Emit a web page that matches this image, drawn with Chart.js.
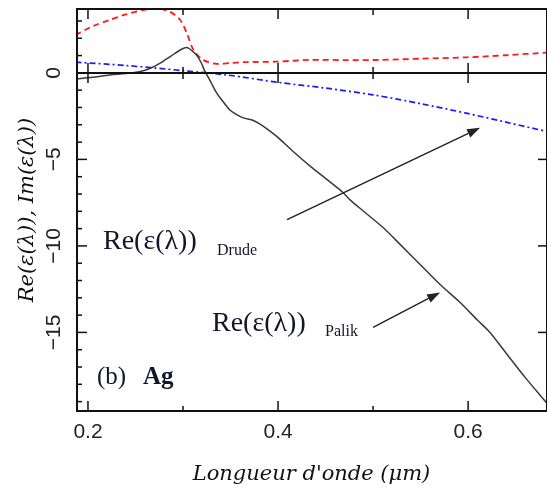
<!DOCTYPE html>
<html>
<head>
<meta charset="utf-8">
<script src="https://cdn.jsdelivr.net/npm/chart.js@4/dist/chart.umd.min.js"></script>
<style>
html,body{margin:0;padding:0;background:#fff;}
#c{display:block;}
</style>
</head>
<body>
<canvas id="c" width="547" height="490"></canvas>
<script>
// ---- data ----
const palikWavelength = [0.187,0.205,0.223,0.24,0.255,0.265,0.276,0.288,0.298,0.304,0.309,0.314,0.319,0.323,0.329,0.3355,0.342,0.349,0.356,0.3635,0.374,0.385,0.3986,0.415,0.434,0.45,0.468,0.4758,0.49,0.5105,0.53,0.55,0.5705,0.5916,0.61,0.623,0.64,0.66,0.683];
const palikRe = [-0.35,-0.25,-0.12,-0.04,0.08,0.25,0.56,1.0,1.35,1.46,1.3,1.04,0.6,0.1,-0.5,-1.17,-1.65,-2.13,-2.4,-2.6,-2.75,-3.1,-3.67,-4.5,-5.4,-6.1,-6.9,-7.34,-8.0,-8.94,-10.0,-11.1,-12.23,-13.27,-14.3,-15.0,-16.2,-17.6,-19.1];

const palikImWavelength = [0.187,0.205,0.223,0.24,0.258,0.272,0.286,0.297,0.304,0.311,0.321,0.3355,0.35,0.3635,0.3986,0.4337,0.47,0.507,0.55,0.598,0.64,0.683];
const palikIm = [2.19,2.7,3.06,3.38,3.63,3.73,3.54,3.06,2.29,1.33,0.75,0.52,0.57,0.62,0.65,0.75,0.74,0.75,0.82,0.9,1.02,1.17];

const drudeWavelength = [0.187,0.241,0.3,0.346,0.402,0.45,0.5,0.55,0.598,0.64,0.683];
const drudeRe = [0.62,0.42,0.13,-0.12,-0.56,-0.88,-1.27,-1.78,-2.33,-2.85,-3.39];

const xMajorTicks = [0.2,0.4,0.6];
const xTickLabels = ['0.2','0.4','0.6'];
const xMinorTicks = [0.3,0.5];
const yMajorTicks = [0,-5,-10,-15];
const yTickLabels = ['0','\u22125','\u221210','\u221215'];
const yMinorTicks = [3,2,1,-1,-2,-3,-4,-6,-7,-8,-9,-11,-12,-13,-14,-16,-17,-18,-19];

// annotation texts (positions in data units)
const notes = [
  {text:'Re(\u03b5(\u03bb))', x:0.2158, y:-10.16, font:'28px "Liberation Serif"'},
  {text:'Drude', x:0.3358, y:-10.5, font:'16px "Liberation Serif"'},
  {text:'Re(\u03b5(\u03bb))', x:0.3305, y:-14.89, font:'28px "Liberation Serif"'},
  {text:'Palik', x:0.4495, y:-15.23, font:'16px "Liberation Serif"'},
  {text:'(b)', x:0.2095, y:-18.0, font:'25px "Liberation Serif"'},
  {text:'Ag', x:0.2579, y:-18.0, font:'bold 25px "Liberation Serif"'}
];
const arrows = [
  {x0:0.4095, y0:-8.48, x1:0.6126, y1:-3.17},
  {x0:0.5, y0:-14.71, x1:0.5705, y1:-12.69}
];

const toXY = (xs, ys) => xs.map((x,i)=>({x:x, y:ys[i]}));

const framePlugin = {
  id:'frame',
  afterDatasetsDraw(chart){
    const ctx = chart.ctx, a = chart.chartArea;
    const xs = chart.scales.x, ys = chart.scales.y;
    ctx.save();
    ctx.strokeStyle = '#111';
    ctx.fillStyle = '#111';
    ctx.lineWidth = 2;
    ctx.strokeRect(a.left+1, a.top+1, a.right-a.left-1, a.bottom-a.top-2);
    const y0 = ys.getPixelForValue(0);
    ctx.beginPath(); ctx.moveTo(a.left, y0); ctx.lineTo(a.right, y0); ctx.stroke();
    ctx.lineWidth = 1.5;
    const seg = (x1,y1,x2,y2)=>{ctx.beginPath();ctx.moveTo(x1,y1);ctx.lineTo(x2,y2);ctx.stroke();};
    xMajorTicks.forEach(v=>{
      const p = xs.getPixelForValue(v);
      seg(p,a.bottom,p,a.bottom-11);
      seg(p,a.top,p,a.top+11);
      seg(p,y0-10,p,y0+10);
    });
    xMinorTicks.forEach(v=>{
      const p = xs.getPixelForValue(v);
      seg(p,a.bottom,p,a.bottom-6);
      seg(p,a.top,p,a.top+7);
      seg(p,y0-6,p,y0+6);
    });
    yMajorTicks.forEach(v=>{
      const p = ys.getPixelForValue(v);
      seg(a.left,p,a.left+11,p);
      if (v!==0) seg(a.right,p,a.right-9,p);
    });
    yMinorTicks.forEach(v=>{
      const p = ys.getPixelForValue(v);
      seg(a.left,p,a.left+6,p);
    });
    // arrows
    ctx.lineWidth = 1.4;
    ctx.strokeStyle = '#222'; ctx.fillStyle = '#222';
    arrows.forEach(r=>{
      const px0 = xs.getPixelForValue(r.x0), py0 = ys.getPixelForValue(r.y0);
      const px1 = xs.getPixelForValue(r.x1), py1 = ys.getPixelForValue(r.y1);
      const ang = Math.atan2(py1-py0, px1-px0);
      const hl = 13, hw = 4.5;
      const bx = px1 - hl*Math.cos(ang), by = py1 - hl*Math.sin(ang);
      seg(px0,py0,bx,by);
      ctx.beginPath();
      ctx.moveTo(px1,py1);
      ctx.lineTo(bx + hw*Math.sin(ang), by - hw*Math.cos(ang));
      ctx.lineTo(bx - hw*Math.sin(ang), by + hw*Math.cos(ang));
      ctx.closePath(); ctx.fill();
    });
    // texts
    ctx.fillStyle = '#15152a';
    ctx.textBaseline = 'alphabetic';
    ctx.textAlign = 'left';
    notes.forEach(n=>{
      ctx.font = n.font;
      ctx.fillText(n.text, xs.getPixelForValue(n.x), ys.getPixelForValue(n.y));
    });
    ctx.restore();
  }
};

new Chart(document.getElementById('c'), {
  type:'line',
  data:{
    datasets:[
      {label:'Re Palik', data:toXY(palikWavelength, palikRe), borderColor:'#3a3a3a', borderWidth:1.5, pointRadius:0, tension:0.3, fill:false},
      {label:'Im Palik', data:toXY(palikImWavelength, palikIm), borderColor:'#ff1a1a', borderWidth:1.8, borderDash:[6,4], pointRadius:0, tension:0.3, fill:false},
      {label:'Re Drude', data:toXY(drudeWavelength, drudeRe), borderColor:'#1a1aff', borderWidth:1.7, borderDash:[6,3,2,3], pointRadius:0, tension:0.3, fill:false}
    ]
  },
  options:{
    responsive:false,
    devicePixelRatio:1,
    animation:false,
    layout:{padding:{top:8,right:0,left:0,bottom:0}},
    plugins:{legend:{display:false}, tooltip:{enabled:false}},
    scales:{
      x:{
        type:'linear', position:'bottom', min:0.1874, max:0.683,
        afterBuildTicks:s=>{s.ticks = xMajorTicks.map(v=>({value:v}));},
        afterFit:s=>{s.height = 78; s.paddingLeft = 0; s.paddingRight = 0;},
        grid:{display:false, drawTicks:false, tickLength:0},
        border:{display:false},
        ticks:{
          padding:8, color:'#222', font:{family:'"Liberation Sans"', size:21},
          maxRotation:0, minRotation:0, autoSkip:false,
          callback:(v)=>{const i = xMajorTicks.findIndex(t=>Math.abs(t-v)<1e-6); return i>=0 ? xTickLabels[i] : '';}
        },
        title:{display:true, text:"Longueur d'onde (\u03bcm)", color:'#111', font:{family:'"DejaVu Serif"', size:21, style:'italic'}, padding:{top:0,bottom:3}}
      },
      y:{
        type:'linear', position:'left', min:-19.6, max:3.75,
        afterBuildTicks:s=>{s.ticks = yMajorTicks.map(v=>({value:v}));},
        afterFit:s=>{s.width = 76; s.paddingTop = 0; s.paddingBottom = 0;},
        grid:{display:false, drawTicks:false, tickLength:0},
        border:{display:false},
        ticks:{
          padding:4, color:'#222', font:{family:'"Liberation Sans"', size:21},
          minRotation:90, maxRotation:90, crossAlign:'center', autoSkip:false,
          callback:(v)=>{const i = yMajorTicks.findIndex(t=>Math.abs(t-v)<1e-6); return i>=0 ? yTickLabels[i] : '';}
        },
        title:{display:true, text:'Re(\u03b5(\u03bb)), Im(\u03b5(\u03bb))', color:'#111', font:{family:'"DejaVu Serif"', size:21, style:'italic'}, padding:{top:15,bottom:0}}
      }
    }
  },
  plugins:[framePlugin]
});
</script>
</body>
</html>
